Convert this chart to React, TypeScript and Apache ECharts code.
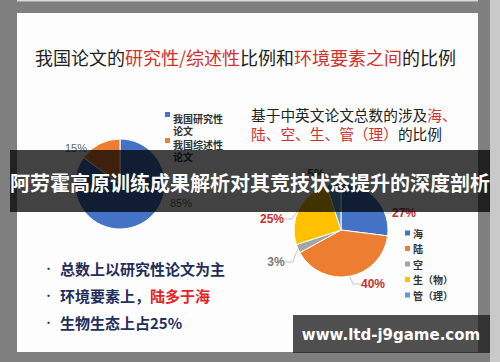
import React, { useEffect, useRef } from "react";
import * as echarts from "echarts";

const leftNames = ["我国研究性论文", "我国综述性论文"];
const leftLegendText = ["我国研究性\n论文", "我国综述性\n论文"];
const leftValues = [85, 15];

const rightNames = ["海", "陆", "空", "生（物）", "管（理）"];
const rightValues = [27, 40, 3, 25, 5];

const bullets = ["总数上以研究性论文为主", "环境要素上，{r|陆多于海}", "生物生态上占25%"];

const CJK = '"Noto Sans CJK SC", "Noto Sans", sans-serif';

// layout constants (label anchor points)
const leftLabelPos = [[181, 203], [76, 148]];
const rightLabelPos = [[404, 213], [373, 284], [276, 262], [272, 219], [316, 174]];
const rightLabelColors = ["#C8302C", "#C8302C", "#7a7a7a", "#C8302C", "#444"];

export default function App() {
  const ref = useRef<HTMLDivElement>(null);
  useEffect(() => {
    const chart = echarts.init(ref.current!, null, { renderer: "svg" });
    const option: any = {
      animation: false,
      backgroundColor: "#7f7f7f",
      graphic: {
        elements: [
          { type: "rect", z: -10, shape: { x: 17, y: 13, width: 461, height: 339 }, style: { fill: "#fdfdfd" } },
          { type: "rect", z: -10, shape: { x: 490, y: 0, width: 10, height: 362 }, style: { fill: "#c9c9c9" } },
          { type: "rect", z: -10, shape: { x: 17, y: 0, width: 461, height: 1.5 }, style: { fill: "#d8d8d8" } },
          {
            type: "text", z: 5, x: 35, y: 57,
            style: {
              text: "我国论文的{r|研究性/综述性}比例和{r|环境要素之间}的比例",
              fontFamily: CJK, fontSize: 18, fill: "#222", verticalAlign: "middle",
              rich: { r: { fill: "#D0312D", fontFamily: CJK, fontSize: 18 } },
            },
          },
          {
            type: "text", z: 5, x: 251, y: 124,
            style: {
              text: "基于中英文论文总数的涉及{r|海、}\n{r|陆、空、生、管（理）}的比例",
              fontFamily: CJK, fontSize: 14.7, fill: "#222", verticalAlign: "middle", lineHeight: 19,
              rich: { r: { fill: "#D0312D", fontFamily: CJK, fontSize: 14.7, lineHeight: 19 } },
            },
          },
          ...bullets.map((b, i) => ({
            type: "group", z: 5,
            children: [
              { type: "text", x: 43, y: 268 + i * 27, style: { text: "•", fontFamily: CJK, fontSize: 11, fill: "#1F2E5C", verticalAlign: "middle" } },
              {
                type: "text", x: 60, y: 268 + i * 27,
                style: {
                  text: b, fontFamily: CJK, fontSize: 15, fontWeight: "bold", fill: "#1F2E5C", verticalAlign: "middle",
                  rich: { r: { fill: "#E8201E", fontFamily: CJK, fontSize: 15, fontWeight: "bold" } },
                },
              },
            ],
          })),
          { type: "rect", z: 100, shape: { x: 10, y: 150, width: 480, height: 62 }, style: { fill: "rgba(0,0,0,0.74)" } },
          {
            type: "text", z: 101, x: 250, y: 182,
            style: {
              text: "阿劳霍高原训练成果解析对其竞技状态提升的深度剖析",
              fontFamily: CJK, fontSize: 20, fontWeight: "bold", fill: "#ffffff", align: "center", verticalAlign: "middle",
            },
          },
          { type: "rect", z: 100, shape: { x: 293, y: 315, width: 197, height: 38 }, style: { fill: "rgba(30,30,30,0.78)" } },
          {
            type: "text", z: 101, x: 391, y: 335,
            style: {
              text: "www.ltd-j9game.com", fontFamily: '"DejaVu Sans", sans-serif', fontSize: 15, fontWeight: "bold",
              fill: "#ffffff", align: "center", verticalAlign: "middle",
            },
          },
        ],
      },
      legend: [
        {
          orient: "vertical", left: 160, top: 107, itemWidth: 5, itemHeight: 24, itemGap: 2,
          icon: "path://M0,0L5,0L5,5L0,5Z M0,24L0.01,24L0.01,24.01Z",
          itemStyle: { borderWidth: 0 },
          data: leftNames,
          formatter: (n: string) => leftLegendText[leftNames.indexOf(n)],
          textStyle: { fontFamily: CJK, fontSize: 10, fontWeight: "bold", color: "#333", lineHeight: 12, padding: [0, 0, 0, -2] },
          selectedMode: false,
        },
        {
          orient: "vertical", left: 400, top: 222, itemWidth: 5, itemHeight: 5, itemGap: 3.5,
          icon: "rect",
          itemStyle: { borderWidth: 0 },
          data: rightNames,
          textStyle: { fontFamily: CJK, fontSize: 10, fontWeight: "bold", color: "#333", lineHeight: 12, padding: [0, 0, 0, -2] },
          selectedMode: false,
        },
      ],
      series: [
        {
          type: "pie", z: 2, center: [120, 184], radius: 45, startAngle: 90, clockwise: true,
          color: ["#4472C4", "#ED7D31"],
          itemStyle: { borderColor: "#fff", borderWidth: 1 },
          label: { show: true, position: "outside", formatter: "{c}%", fontSize: 11, color: "#666", fontFamily: "Liberation Sans, sans-serif" },
          labelLine: { show: false },
          labelLayout: (p: any) => ({ x: leftLabelPos[p.dataIndex][0], y: leftLabelPos[p.dataIndex][1], align: "center", verticalAlign: "middle" }),
          data: leftNames.map((n, i) => ({ name: n, value: leftValues[i] })),
        },
        {
          type: "pie", z: 2, center: [341, 230], radius: 47, startAngle: 90, clockwise: true,
          color: ["#4472C4", "#ED7D31", "#A5A5A5", "#FFC000", "#5B9BD5"],
          itemStyle: { borderColor: "#fff", borderWidth: 1 },
          label: { show: true, position: "outside", formatter: "{c}%", fontSize: 12, fontWeight: "bold", fontFamily: "Liberation Sans, sans-serif" },
          labelLine: { show: true, length: 8, length2: 8, lineStyle: { color: "#c4c4c4", width: 1 } },
          labelLayout: (p: any) => ({ x: rightLabelPos[p.dataIndex][0], y: rightLabelPos[p.dataIndex][1], align: "center", verticalAlign: "middle" }),
          data: rightNames.map((n, i) => ({ name: n, value: rightValues[i], label: { color: rightLabelColors[i] } })),
        },
      ],
    };
    chart.setOption(option);
    return () => chart.dispose();
  }, []);
  return <div ref={ref} style={{ position: "fixed", left: 0, top: 0, width: 500, height: 362 }} />;
}
